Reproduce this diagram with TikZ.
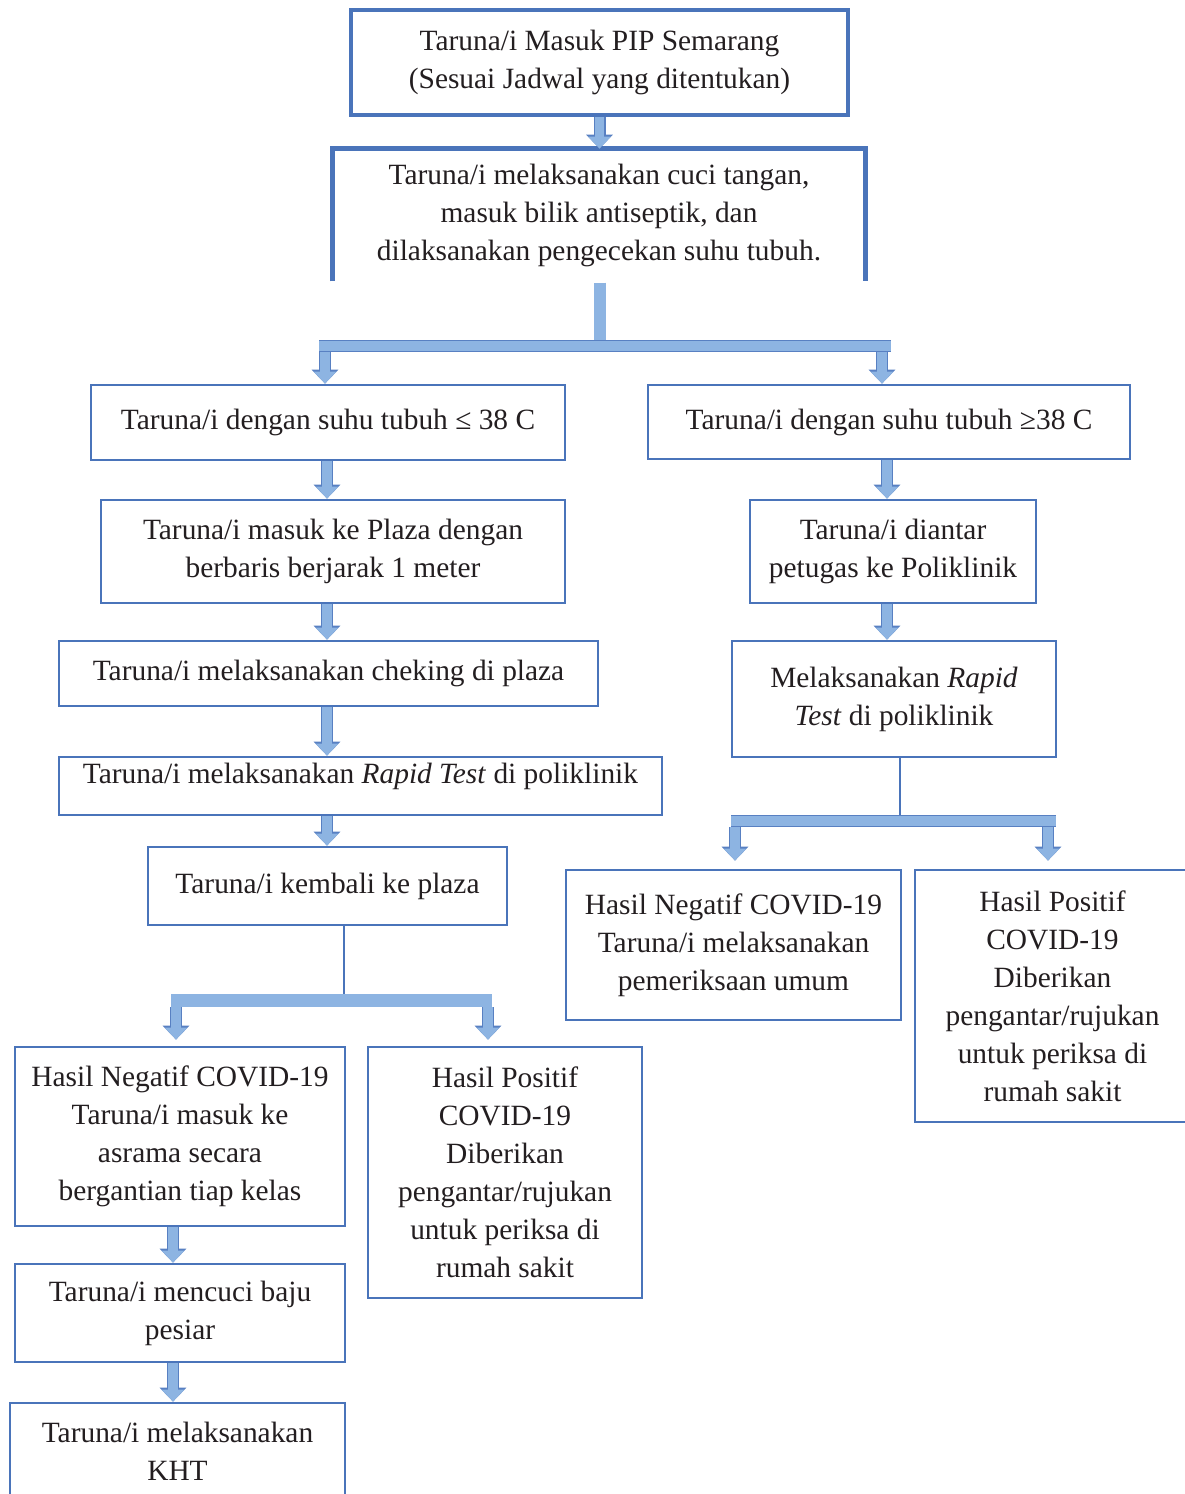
\documentclass[tikz,border=0pt]{standalone}
\usepackage{fontspec}
\setmainfont{Liberation Serif}
\usetikzlibrary{arrows.meta,positioning,calc}
\definecolor{boxblue}{RGB}{74,116,186}
\definecolor{barblue}{RGB}{141,180,226}
\definecolor{baredge}{RGB}{88,128,194}
\definecolor{inkdark}{RGB}{35,30,32}

\begin{document}
\begin{tikzpicture}[x=0.5pt,y=-0.5pt,
  box/.style={draw=boxblue,line width=1.4pt,align=center,text=inkdark,inner sep=2pt,
    font=\fontsize{14.7}{19}\selectfont},
  heavybox/.style={box,line width=2.4pt},
  link/.style={draw=boxblue,line width=1pt},
  bar/.style={draw=barblue,line width=5pt,shorten <=0.7pt,shorten >=0.7pt,
    preaction={draw=baredge,line width=6.4pt}},
  blockarrow/.style={draw=barblue,line width=4.6pt,-{Triangle[width=11pt,length=6pt]},
    preaction={draw=baredge,line width=6pt,-{Triangle[width=13pt,length=7pt]}}}]
\fill[white] (0,0) rectangle (1184,1494);
\useasboundingbox (0,0) rectangle (1184,1494);

\node (masuk) [heavybox,minimum width=248.5pt,minimum height=52.5pt] at (599.5,62.5)
  {Taruna/i Masuk PIP Semarang\\(Sesuai Jadwal yang ditentukan)};
\node (cuci) [box,draw=none,minimum width=265pt,minimum height=65pt] at (599,215)
  {Taruna/i melaksanakan cuci tangan,\\masuk bilik antiseptik, dan\\dilaksanakan pengecekan suhu tubuh.};
\draw[boxblue,line width=2.4pt] (cuci.south west) -- (cuci.north west) -- (cuci.north east) -- (cuci.south east);

\node (suhurendah) [box,minimum width=237pt,minimum height=37.5pt] at (328,422.5)
  {Taruna/i dengan suhu tubuh ≤ 38 C};
\node (suhutinggi) [box,minimum width=241pt,minimum height=37pt] at (889,422)
  {Taruna/i dengan suhu tubuh ≥38 C};
\node (plaza) [box,minimum width=232pt,minimum height=51.5pt] at (333,551.5)
  {Taruna/i masuk ke Plaza dengan\\berbaris berjarak 1 meter};
\node (cek) [box,minimum width=269.5pt,minimum height=32.5pt] at (328.5,673.5)
  {Taruna/i melaksanakan cheking di plaza};
\node (rapid) [box,minimum width=301.5pt,minimum height=29pt,text depth=13pt] at (360.5,786)
  {Taruna/i melaksanakan \textit{Rapid Test} di poliklinik};
\node (kembali) [box,minimum width=179.5pt,minimum height=39pt] at (327.5,886)
  {Taruna/i kembali ke plaza};
\node (negatif) [box,minimum width=165pt,minimum height=89.5pt] at (180,1136.5)
  {Hasil Negatif COVID-19\\Taruna/i masuk ke\\asrama secara\\bergantian tiap kelas};
\node (positif) [box,minimum width=137pt,minimum height=125.5pt] at (505,1172.5)
  {Hasil Positif\\COVID-19\\Diberikan\\pengantar/rujukan\\untuk periksa di\\rumah sakit};
\node (baju) [box,minimum width=165pt,minimum height=49pt] at (180,1313)
  {Taruna/i mencuci baju\\pesiar};
\node (kht) [box,minimum width=167.5pt,minimum height=48.5pt] at (177.5,1451.5)
  {Taruna/i melaksanakan\\KHT};

\node (diantar) [box,minimum width=143pt,minimum height=51.5pt] at (893,551.5)
  {Taruna/i diantar\\petugas ke Poliklinik};
\node (rapidpoli) [box,minimum width=162pt,minimum height=58pt] at (894,699)
  {Melaksanakan \textit{Rapid}\\\textit{Test} di poliklinik};
\node (negpoli) [box,minimum width=167.5pt,minimum height=75pt] at (733.5,945)
  {Hasil Negatif COVID-19\\Taruna/i melaksanakan\\pemeriksaan umum};
\node (pospoli) [box,minimum width=137.5pt,minimum height=126pt] at (1052.5,996)
  {Hasil Positif\\COVID-19\\Diberikan\\pengantar/rujukan\\untuk periksa di\\rumah sakit};

\coordinate (split) at (600,346);
\coordinate (splitl) at (318,346);
\coordinate (splitr) at (892,346);
\coordinate (sl) at (325,352);
\coordinate (sr) at (882,352);
\coordinate (lspine) at (327,0);
\coordinate (rspine) at (887,0);
\coordinate (gspine) at (173,0);
\coordinate (fsplit) at (344,1000);
\coordinate (fbarl) at (170,1000);
\coordinate (fbarr) at (493,1000);
\coordinate (fl) at (176,1007);
\coordinate (fr) at (488,1007);
\coordinate (lsplit) at (900,821);
\coordinate (lbarl) at (730,821);
\coordinate (lbarr) at (1057,821);
\coordinate (ll) at (735,827);
\coordinate (lr) at (1048,827);

\draw[blockarrow] (masuk.south) -- (masuk.south |- cuci.north);
\draw[bar,line width=6pt] (cuci.south -| split) -- (split);
\draw[blockarrow] (sl) -- (sl |- suhurendah.north);
\draw[blockarrow] (sr) -- (sr |- suhutinggi.north);
\draw[bar] (splitl) -- (splitr);

\draw[blockarrow] (suhurendah.south -| lspine) -- (plaza.north -| lspine);
\draw[blockarrow] (plaza.south -| lspine) -- (cek.north -| lspine);
\draw[blockarrow] (cek.south -| lspine) -- (rapid.north -| lspine);
\draw[blockarrow] (rapid.south -| lspine) -- (kembali.north -| lspine);
\draw[link] (kembali.south -| fsplit) -- (fsplit);
\draw[blockarrow,shorten >=3pt] (fl) -- (fl |- negatif.north);
\draw[blockarrow,shorten >=3pt] (fr) -- (fr |- positif.north);
\draw[bar,line width=6.5pt] (fbarl) -- (fbarr);
\draw[blockarrow] (negatif.south -| gspine) -- (baju.north -| gspine);
\draw[blockarrow] (baju.south -| gspine) -- (kht.north -| gspine);

\draw[blockarrow] (suhutinggi.south -| rspine) -- (diantar.north -| rspine);
\draw[blockarrow] (diantar.south -| rspine) -- (rapidpoli.north -| rspine);
\draw[link] (rapidpoli.south -| lsplit) -- (lsplit);
\draw[blockarrow,shorten >=4pt] (ll) -- (ll |- negpoli.north);
\draw[blockarrow,shorten >=4pt] (lr) -- (lr |- pospoli.north);
\draw[bar] (lbarl) -- (lbarr);
\end{tikzpicture}
\end{document}
